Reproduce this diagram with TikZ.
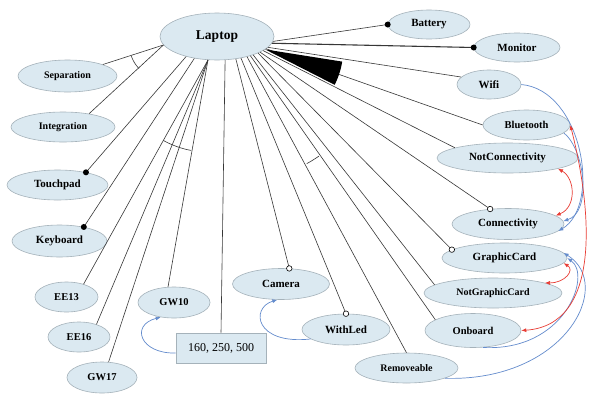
\documentclass[tikz,border=0pt]{standalone}
\usepackage{fontspec}
\setmainfont{Liberation Serif}
\usetikzlibrary{shapes.geometric,arrows.meta,calc}
\definecolor{featfill}{RGB}{219,233,241}
\definecolor{featline}{RGB}{165,178,186}
\definecolor{reqblue}{RGB}{100,140,205}
\definecolor{exred}{RGB}{232,60,52}
\definecolor{edgecol}{RGB}{55,55,55}

\begin{document}
\begin{tikzpicture}[x=1pt,y=-1pt,
  feat/.style={ellipse, draw=featline, fill=featfill, line width=0.6pt,
    inner sep=0pt, font=\bfseries\fontsize{#1}{#1}\selectfont},
  valbox/.style={rectangle, draw=featline, fill=featfill, line width=0.6pt,
    inner sep=0pt, font=\fontsize{12}{12}\selectfont},
  tree/.style={draw=edgecol, line width=0.6pt},
  mand/.style={circle, fill=black, inner sep=0pt, minimum size=6pt},
  opt/.style={circle, draw=black, fill=white, inner sep=0pt, minimum size=5.5pt, line width=0.6pt},
  req/.style={draw=reqblue, line width=0.7pt, -{Latex[length=5pt,width=4pt]}},
  excl/.style={draw=exred, line width=0.7pt, {Latex[length=5pt,width=4pt]}-{Latex[length=5pt,width=4pt]}}
]
\useasboundingbox[fill=white] (0,0) rectangle (605,394);

% features
\node[feat=13.5, minimum width=114pt, minimum height=47pt] (laptop) at (217,36.5) {Laptop};
\node[feat=11, minimum width=82pt, minimum height=29pt] (battery) at (429,24.5) {Battery};
\node[feat=11, minimum width=86pt, minimum height=29pt] (monitor) at (517,47.5) {Monitor};
\node[feat=11, minimum width=64pt, minimum height=29pt] (wifi) at (489,84.5) {Wifi};
\node[feat=10.5, minimum width=87pt, minimum height=30pt] (bluetooth) at (526.5,125) {Bluetooth};
\node[feat=11, minimum width=141pt, minimum height=30pt] (notconn) at (507.5,158) {NotConnectivity};
\node[feat=11, minimum width=112pt, minimum height=31pt] (conn) at (508,224) {Connectivity};
\node[feat=11, minimum width=125pt, minimum height=30pt] (graphic) at (504.5,258) {GraphicCard};
\node[feat=10, minimum width=138pt, minimum height=30pt] (notgraphic) at (493,293) {NotGraphicCard};
\node[feat=10.5, minimum width=96pt, minimum height=34pt] (onboard) at (473,330.5) {Onboard};
\node[feat=10, minimum width=103pt, minimum height=30pt] (removeable) at (406.5,368) {Removeable};
\node[feat=11, minimum width=88pt, minimum height=31pt] (withled) at (346,329.5) {WithLed};
\node[feat=11, minimum width=97pt, minimum height=31pt] (camera) at (281,284) {Camera};
\node[feat=10.5, minimum width=72pt, minimum height=31pt] (gw10) at (174,302.5) {GW10};
\node[valbox, minimum width=90pt, minimum height=30pt] (sizes) at (221,348) {160, 250, 500};
\node[feat=10.5, minimum width=63pt, minimum height=30pt] (ee13) at (66.5,297) {EE13};
\node[feat=10.5, minimum width=62pt, minimum height=30pt] (ee16) at (79,337) {EE16};
\node[feat=10.5, minimum width=70pt, minimum height=31pt] (gw17) at (102,377.5) {GW17};
\node[feat=11, minimum width=95pt, minimum height=32pt] (keyboard) at (59.5,241) {Keyboard};
\node[feat=11, minimum width=101pt, minimum height=30pt] (touchpad) at (57.5,185) {Touchpad};
\node[feat=10, minimum width=104pt, minimum height=30pt] (integration) at (63,127) {Integration};
\node[feat=10, minimum width=99pt, minimum height=32pt] (separation) at (67.5,76) {Separation};

% tree edges
\draw[tree] (laptop.189) -- (separation.18);
\draw[tree] (laptop.189) -- (integration.27);
\draw[tree] (laptop.213) -- (touchpad.24) node[mand] (mTouchpad) {};
\draw[tree] (laptop.224) -- (keyboard.30) node[mand] (mKeyboard) {};
\draw[tree] (laptop.249) -- (ee13.37);
\draw[tree] (laptop.249) -- (ee16.36);
\draw[tree] (laptop.249) -- (gw17.67);
\draw[tree] (laptop.249) -- (gw10.111);
\draw[tree] (laptop.289) -- (sizes.north);
\draw[tree] (laptop.310) -- (camera.62) node[opt] (oCamera) {};
\draw[tree] (laptop.318) -- (withled.north) node[opt] (oWithLed) {};
\draw[tree] (laptop.326) -- (removeable.north);
\draw[tree] (laptop.330) -- (onboard.164);
\draw[tree] (laptop.333) -- (notgraphic.172);
\draw[tree] (laptop.338) -- (graphic.171) node[opt] (oGraphic) {};
\draw[tree] (laptop.340) -- (conn.140) node[opt] (oConn) {};
\draw[tree] (laptop.343) -- (notconn.169);
\draw[tree] (laptop.346) -- (bluetooth.west);
\draw[tree] (laptop.348) -- (wifi.165);
\draw[tree, line width=1.1pt] (laptop.353.5) -- (monitor.west) node[mand] (mMonitor) {};
\draw[tree] (laptop.355.5) -- (battery.west) node[mand] (mBattery) {};

% group arcs
\draw[tree] ([shift={(199:34pt)}]laptop.189) arc[start angle=199, end angle=224, radius=34pt];
\draw[tree] ([shift={(241:92pt)}]laptop.249) arc[start angle=241, end angle=259.4, radius=92pt];
\draw[tree] ([shift={(298.4:122pt)}]laptop.328) arc[start angle=298.4, end angle=305.1, radius=122pt];
\fill[black] (laptop.345) -- ++(333:78pt) arc[start angle=333, end angle=351, radius=78pt] -- cycle;

% requires constraints
\draw[req] (wifi.east) .. controls (582,90) and (602,205) .. (conn.-8);
\draw[req] (bluetooth.-12) .. controls (585,150) and (592,212) .. (conn.3);
\draw[req] (onboard.-60) .. controls (565,352) and (592,275) .. (graphic.0);
\draw[req] (removeable.-15) .. controls (565,382) and (615,285) .. (graphic.5);
\draw[req] (withled.195) .. controls (255,345) and (250,308) .. (camera.-103);
\draw[req] ([yshift=-5pt]sizes.west) .. controls (140,354) and (130,325) .. (gw10.228);

% excludes constraints
\draw[excl] (notconn.-12) .. controls (575,178) and (577,207) .. (conn.10);
\draw[excl] (bluetooth.east) .. controls (592,210) and (602,325) .. (onboard.east);
\draw[excl] (graphic.-5) .. controls (575,270) and (565,283) .. (notgraphic.11);
\end{tikzpicture}
\end{document}
